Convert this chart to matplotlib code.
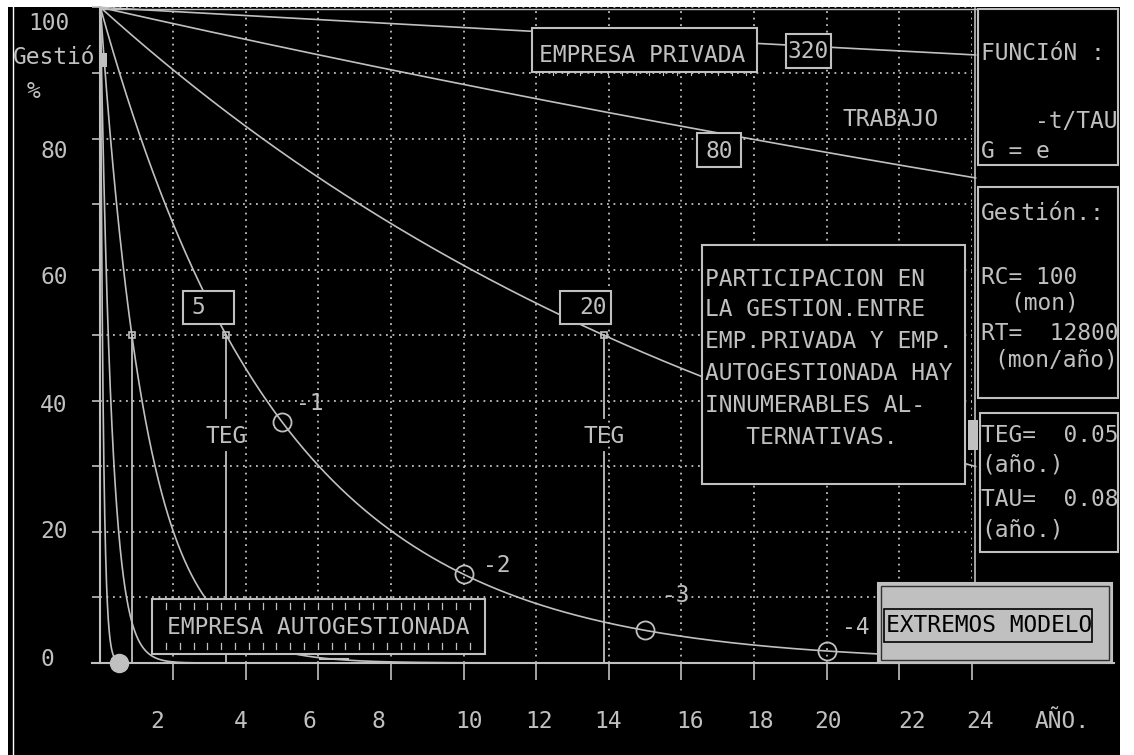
import matplotlib
matplotlib.use("Agg")
import matplotlib.pyplot as plt
from matplotlib.patches import Rectangle
import numpy as np

GRAY = "#c0c0c0"
plt.rcParams['font.family'] = ['DejaVu Sans Mono']
FS = 16.5

tau_values = [320, 80, 20, 5, 1.25, 0.3125, 0.08]
tau_boxes = ["320", "80", "20", "5"]
teg_times = [13.86, 3.47, 0.87]          # TEG marks (G = 50 %)
teg_labelled = [True, True, False]
step_times = [5, 10, 15, 20]             # marks on the TAU = 5 curve
step_labels = ["-1", "-2", "-3", "-4"]
cursor_time = 0.52                       # filled cursor on the time axis
x_ticks = list(range(2, 25, 2))
x_tick_labels = [str(v) for v in x_ticks]
y_ticks = list(range(0, 101, 10))
y_tick_labels = ["100", "80", "60", "40", "20", "0"]

fig = plt.figure(figsize=(11.34, 7.55), dpi=100, facecolor="white")

# pixel helpers (y measured from the top of the picture)
W, H = 1134, 755


def fig_rect(x0, y0, x1, y1):
    return [x0 / W, (H - y1) / H, (x1 - x0) / W, (y1 - y0) / H]


# background screen
bg = fig.add_axes([0, 0, 1, 1], zorder=0)
bg.set_xlim(0, W)
bg.set_ylim(H, 0)
bg.axis("off")
bg.add_patch(Rectangle((8, 7), 1112, 748, facecolor="black", edgecolor="none"))
bg.plot([12.5, 12.5], [7, H], color="white", lw=1)
bg.plot([100, 1118], [8.5, 8.5], color=GRAY, lw=1)

# data axes: x 0..24 años, y 0..100 %
ax = fig.add_axes(fig_rect(100.4, 7.4, 972, 663), zorder=1)
ax.set_xlim(0, 24)
ax.set_ylim(0, 100)
ax.patch.set_visible(False)
for s in ax.spines.values():
    s.set_visible(False)
ax.set_xticks(x_ticks)
ax.set_yticks(y_ticks)
ax.tick_params(axis="x", direction="out", length=12, width=1.2, color=GRAY,
               labelbottom=False)
ax.tick_params(axis="y", direction="out", length=6, width=1.2, color=GRAY,
               labelleft=False)
ax.grid(True, color=GRAY, linestyle=(0, (1, 2.6)), lw=1.3)

ax.plot([0, 0], [0, 100], color=GRAY, lw=1.5, clip_on=False)
ax.plot([-0.22, 27.9], [0, 0], color=GRAY, lw=1.5, clip_on=False)

t = np.linspace(0, 24.1, 8000)
for tau in tau_values:
    ax.plot(t, 100 * np.exp(-t / tau), color=GRAY, lw=1.2, clip_on=False)

# TEG markers and drop lines
for tt, lab in zip(teg_times, teg_labelled):
    if lab:
        ax.plot([tt, tt], [0, 32.2], color=GRAY, lw=1.3)
        ax.plot([tt, tt], [37.3, 50], color=GRAY, lw=1.3)
        ax.text(tt, 34.6, "TEG", color=GRAY, fontsize=FS, ha="center",
                va="center")
    else:
        ax.plot([tt, tt], [0, 50], color=GRAY, lw=1.3)
    ax.plot([tt], [50], "s", mfc="none", mec=GRAY, ms=4, mew=1.2)

# e^-1 .. e^-4 steps on TAU = 5
step_g = [100 * np.exp(-s / 5) for s in step_times]
ax.plot(step_times, step_g, "o", mfc="none", mec=GRAY, ms=13, mew=1.3)
step_offsets = [(20, 13), (24, 6), (22, 25), (21, 17)]
for s, g, lab, off in zip(step_times, step_g, step_labels, step_offsets):
    ax.annotate(lab, (s, g), xytext=off, textcoords="offset points",
                color=GRAY, fontsize=FS, ha="center", va="center")

ax.plot([cursor_time], [0], "o", color=GRAY, ms=13, clip_on=False)

# overlay: boxes and screen text, in pixels
ov = fig.add_axes([0, 0, 1, 1], zorder=2)
ov.set_xlim(0, W)
ov.set_ylim(H, 0)
ov.axis("off")


def box(x0, y0, x1, y1, fc="black", ec=GRAY, lw=1.5):
    ov.add_patch(Rectangle((x0, y0), x1 - x0, y1 - y0, facecolor=fc,
                           edgecolor=ec, lw=lw))


def txt(x, y, s, ha="left", color=GRAY, **kw):
    ov.text(x, y, s, color=color, fontsize=FS, ha=ha, va="center",
            clip_on=True, **kw)


# axis labels
txt(28, 24, y_tick_labels[0])
for lab, yy in zip(y_tick_labels[1:], [152, 278, 405, 532, 660]):
    txt(40, yy, lab)
txt(13, 58, "Gestió")
txt(27, 92, "%")
ov.add_patch(Rectangle((100, 53), 7, 14, facecolor=GRAY, edgecolor="none"))
for lab, xx in zip(x_tick_labels,
                   [157, 241, 309, 378, 469, 539, 608, 690, 760, 828, 912, 980]):
    txt(xx, 722, lab, ha="center")
txt(1062, 722, "AÑO.", ha="center")

# label boxes on the curves
box(532, 28, 757, 72)
txt(642, 56, "EMPRESA PRIVADA", ha="center")
for xx in np.arange(539, 752, 13.8):
    ov.plot([xx, xx], [72, 75], color=GRAY, lw=0.8)
box(786, 34, 831, 68)
txt(808, 52, tau_boxes[0], ha="center")
box(697, 133, 741, 167)
txt(719, 151, tau_boxes[1], ha="center")
box(560, 291, 611, 324)
txt(593, 308, tau_boxes[2], ha="center")
box(183, 291, 234, 324)
txt(198, 308, tau_boxes[3], ha="center")
txt(891, 120, "TRABAJO", ha="center")

box(152, 599, 485, 654)
for xx in np.arange(166, 478, 13.8):
    ov.plot([xx, xx], [603, 609], color=GRAY, lw=0.9)
    ov.plot([xx, xx], [643, 649], color=GRAY, lw=0.9)
txt(318, 627, "EMPRESA AUTOGESTIONADA", ha="center")
ov.plot([320, 348], [658.5, 658.5], color=GRAY, lw=1.5)

box(702, 245, 965, 484)
for s, yy in zip(["PARTICIPACION EN", "LA GESTION.ENTRE", "EMP.PRIVADA Y EMP.",
                  "AUTOGESTIONADA HAY", "INNUMERABLES AL-", "   TERNATIVAS."],
                 [279, 310, 342, 374, 405, 437]):
    txt(705, yy, s)

# right panel
ov.plot([975, 975], [8, 583], color=GRAY, lw=1.2)
ov.add_patch(Rectangle((968, 420), 10, 30, facecolor=GRAY, edgecolor="none"))
box(978, 9, 1118, 165)
box(978, 187, 1118, 398)
box(980, 413, 1118, 552)
for s, xx, yy in [("FUNCIóN :", 981, 53), ("-t/TAU", 1035, 122),
                  ("G = e", 981, 152), ("Gestión.:", 981, 214),
                  ("RC= 100", 981, 278), ("(mon)", 1010, 303),
                  ("RT=  12800", 981, 333), ("(mon/año)", 994, 360),
                  ("TEG=  0.05", 981, 436), ("(año.)", 981, 465),
                  ("TAU=  0.08", 981, 500), ("(año.)", 981, 530)]:
    ov.text(xx, yy, s, color=GRAY, fontsize=FS, ha="left", va="center",
            clip_on=True, clip_box=None)

box(878, 583, 1112, 663, fc=GRAY, ec=GRAY)
ov.add_patch(Rectangle((881, 586), 228, 74, facecolor="none",
                       edgecolor="#303030", lw=1))
box(884, 609, 1092, 642, fc=GRAY, ec="black", lw=1.2)
txt(886, 626, "EXTREMOS MODELO", color="black")

fig.savefig("out.png", dpi=100, facecolor="white")
